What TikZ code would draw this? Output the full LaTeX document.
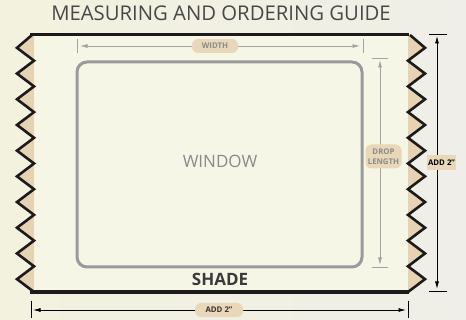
\documentclass[tikz,border=0pt]{standalone}
\usepackage{fontspec}
\setmainfont{Open Sans}
\usetikzlibrary{arrows.meta}
\definecolor{bgL}{HTML}{F2F2DE}
\definecolor{bgR}{HTML}{EFEEE8}
\definecolor{shadefill}{HTML}{F6F6E6}
\definecolor{tan}{HTML}{E6D3B3}
\definecolor{pill}{HTML}{E8D7B9}
\definecolor{wingray}{HTML}{9A9A9C}
\definecolor{dimgray}{HTML}{A3A3A6}
\definecolor{txtgray}{HTML}{8A8A8C}
\definecolor{titlec}{HTML}{484848}
\definecolor{edge}{HTML}{1C1A1A}
\tikzset{
  zig/.style={draw=edge, line width=2.6pt, line join=miter},
  grayarrow/.style={draw=dimgray, line width=0.8pt, {Latex[length=7.5pt,width=4pt]}-{Latex[length=7.5pt,width=4pt]}},
  blackarrow/.style={draw=black, line width=0.8pt, {Latex[length=7.5pt,width=4pt]}-{Latex[length=7.5pt,width=4pt]}},
  graytick/.style={draw=dimgray, line width=0.8pt},
  blacktick/.style={draw=black, line width=0.8pt},
  pilllabel/.style={fill=pill, rounded corners=6pt, text=txtgray, font=\fontsize{7.8}{8.5}\selectfont\bfseries, inner sep=0pt, align=center},
}
\begin{document}
\begin{tikzpicture}[x=1pt,y=-1pt]
\useasboundingbox (0,0) rectangle (466,320);
\shade[left color=bgL,right color=bgR] (0,0) rectangle (466,320);
% shade body
\fill[shadefill] (34,35) rectangle (408,292);
% tan strips
\fill[tan] (34,35) \foreach \i in {1,...,10} { -- (17,{35+(2*\i-1)*12.85}) -- (34,{35+2*\i*12.85}) } -- cycle;
\fill[tan] (408,35) \foreach \i in {1,...,10} { -- (425,{35+(2*\i-1)*12.85}) -- (408,{35+2*\i*12.85}) } -- cycle;
% zigzag edges
\draw[zig] (32,35) \foreach \i in {1,...,10} { -- (17,{35+(2*\i-1)*12.85}) -- (34,{35+2*\i*12.85}) };
\draw[zig] (410,35) \foreach \i in {1,...,10} { -- (425,{35+(2*\i-1)*12.85}) -- (408,{35+2*\i*12.85}) };
% top and bottom edges
\coordinate (tl) at (30,34.7);
\coordinate (tr) at (409,34.7);
\coordinate (bl) at (30,292.3);
\coordinate (br) at (409,292.3);
\draw[draw=edge, line width=3.6pt] (tl) -- (tr);
\draw[draw=edge, line width=3.6pt] (bl) -- (br);
% title
\node[font=\fontsize{20.3}{24}\selectfont, text=titlec, inner sep=0pt] (title) at (221,13.5) {MEASURING AND ORDERING GUIDE};
% window
\draw[draw=wingray, line width=3pt, rounded corners=10pt] (77,62) rectangle (362,267);
\node[font=\fontsize{17}{20}\selectfont, text=txtgray, inner sep=0pt] (window) at (220,161.5) {WINDOW};
\node[font=\fontsize{17}{20}\selectfont\bfseries, text=titlec!80!black, inner sep=0pt] (shade) at (220,279.5) {SHADE};
% width dimension
\coordinate (wt1a) at (77,39); \coordinate (wt1b) at (77,53);
\coordinate (wt2a) at (363,39); \coordinate (wt2b) at (363,53);
\draw[graytick] (wt1a) -- (wt1b);
\draw[graytick] (wt2a) -- (wt2b);
\coordinate (wl) at (80,46); \coordinate (wr) at (360,46);
\draw[grayarrow] (wl) -- (wr);
\node[pilllabel, minimum width=46pt, minimum height=14pt] (width) at (215,46) {WIDTH};
% drop length
\coordinate (dt1a) at (372,58); \coordinate (dt1b) at (388,58);
\coordinate (dt2a) at (372,267); \coordinate (dt2b) at (388,267);
\draw[graytick] (dt1a) -- (dt1b);
\draw[graytick] (dt2a) -- (dt2b);
\coordinate (dtop) at (380,60); \coordinate (dbot) at (380,265);
\draw[grayarrow] (dtop) -- (dbot);
\node[pilllabel, minimum width=36pt, minimum height=24pt, font=\fontsize{7.8}{9.5}\selectfont\bfseries] (drop) at (383.5,156.5) {DROP\\LENGTH};
% add 2 right
\coordinate (at1a) at (429,34); \coordinate (at1b) at (447,34);
\coordinate (at2a) at (429,291); \coordinate (at2b) at (447,291);
\draw[blacktick] (at1a) -- (at1b);
\draw[blacktick] (at2a) -- (at2b);
\coordinate (atop) at (437,36); \coordinate (abot) at (437,289);
\draw[blackarrow] (atop) -- (abot);
\node[fill=pill, text=black, font=\fontsize{7.8}{9}\selectfont\bfseries, inner sep=0pt, minimum width=29pt, minimum height=15pt] (addr) at (441.5,162.5) {ADD 2"};
% add 2 bottom
\coordinate (bt1a) at (31,301); \coordinate (bt1b) at (31,318);
\coordinate (bt2a) at (408,301); \coordinate (bt2b) at (408,318);
\draw[blacktick] (bt1a) -- (bt1b);
\draw[blacktick] (bt2a) -- (bt2b);
\coordinate (bleft) at (33,310); \coordinate (bright) at (406,310);
\draw[blackarrow] (bleft) -- (bright);
\node[pilllabel, text=black!80, minimum width=48pt, minimum height=14pt] (addb) at (219,310) {ADD 2"};
\end{tikzpicture}
\end{document}
